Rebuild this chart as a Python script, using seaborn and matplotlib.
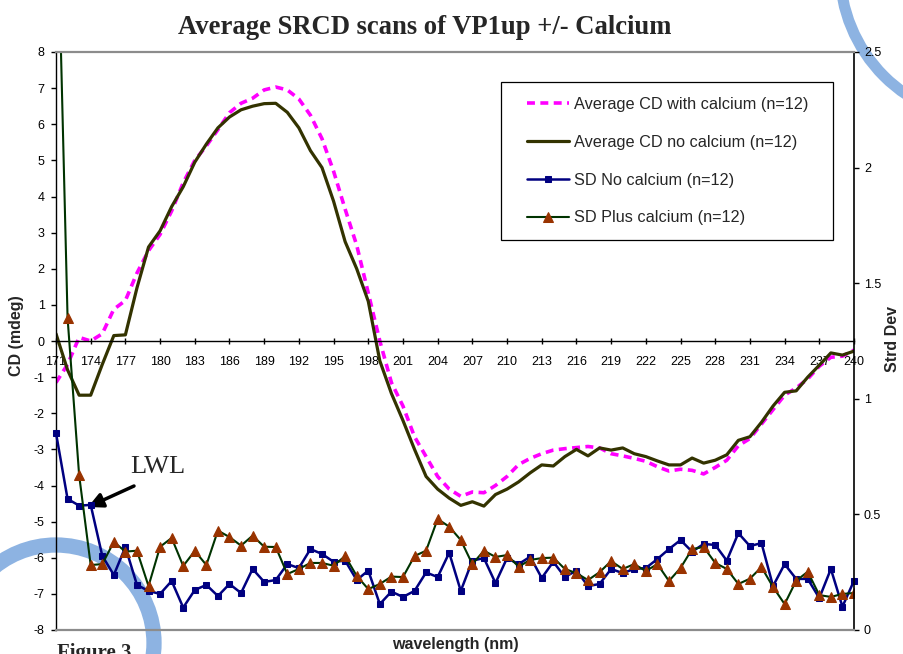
# Average SRCD scans of VP1up +/- Calcium

import pandas as pd
import matplotlib.pyplot as plt
import seaborn as sb
from matplotlib.patches import Ellipse, Rectangle
from matplotlib.ticker import FuncFormatter

# Data (171-240 nm, 1 nm steps)
wavelength = list(range(171, 241))

cd_with_calcium = [
    -1.15, -0.65, 0.1, 0.0, 0.2, 0.88, 1.12, 1.88, 2.5, 2.95,
    3.6, 4.38, 5.0, 5.4, 5.85, 6.32, 6.58, 6.72, 6.95, 7.03,
    6.95, 6.7, 6.25, 5.6, 4.7, 3.65, 2.65, 1.33, 0.0, -1.15,
    -1.8, -2.65, -3.2, -3.75, -4.1, -4.3, -4.18, -4.2, -4.0, -3.75,
    -3.42, -3.25, -3.12, -3.02, -2.98, -2.95, -2.92, -2.96, -3.12, -3.18,
    -3.25, -3.33, -3.48, -3.6, -3.55, -3.58, -3.68, -3.5, -3.3, -2.9,
    -2.7, -2.3, -1.9, -1.5, -1.3, -1.05, -0.7, -0.45, -0.42, -0.25]

cd_no_calcium = [
    0.2, -0.8, -1.5, -1.5, -0.65, 0.15, 0.17, 1.47, 2.6, 3.05,
    3.72, 4.27, 4.95, 5.45, 5.9, 6.2, 6.4, 6.5, 6.57, 6.58,
    6.33, 5.9, 5.27, 4.8, 3.87, 2.75, 2.0, 1.1, -0.55, -1.45,
    -2.2, -3.0, -3.75, -4.1, -4.35, -4.55, -4.45, -4.57, -4.25, -4.1,
    -3.9, -3.65, -3.43, -3.46, -3.2, -3.0, -3.18, -2.96, -3.02, -2.96,
    -3.12, -3.2, -3.32, -3.43, -3.43, -3.24, -3.38, -3.3, -3.15, -2.75,
    -2.65, -2.25, -1.8, -1.42, -1.38, -1.0, -0.67, -0.33, -0.39, -0.28]

sd_no_calcium = [
    0.852, 0.567, 0.538, 0.541, 0.321, 0.238, 0.359, 0.195, 0.169, 0.156,
    0.212, 0.097, 0.173, 0.195, 0.147, 0.199, 0.160, 0.264, 0.208, 0.216,
    0.285, 0.268, 0.350, 0.329, 0.295, 0.300, 0.216, 0.257, 0.112, 0.166,
    0.143, 0.169, 0.249, 0.229, 0.334, 0.169, 0.300, 0.311, 0.203, 0.311,
    0.285, 0.317, 0.225, 0.295, 0.229, 0.257, 0.190, 0.199, 0.264, 0.246,
    0.264, 0.268, 0.307, 0.350, 0.389, 0.339, 0.372, 0.368, 0.300, 0.419,
    0.363, 0.376, 0.190, 0.285, 0.221, 0.221, 0.138, 0.264, 0.101, 0.213]

sd_plus_calcium = [
    3.37, 1.35, 0.670, 0.281, 0.285, 0.381, 0.339, 0.343, 0.190, 0.360,
    0.398, 0.277, 0.342, 0.281, 0.430, 0.402, 0.365, 0.408, 0.360, 0.359,
    0.242, 0.264, 0.290, 0.290, 0.278, 0.320, 0.234, 0.177, 0.199, 0.231,
    0.229, 0.320, 0.343, 0.480, 0.447, 0.389, 0.285, 0.343, 0.316, 0.324,
    0.274, 0.303, 0.311, 0.313, 0.264, 0.246, 0.216, 0.250, 0.298, 0.264,
    0.285, 0.255, 0.285, 0.212, 0.268, 0.350, 0.359, 0.290, 0.264, 0.199,
    0.222, 0.272, 0.186, 0.112, 0.213, 0.252, 0.151, 0.143, 0.156, 0.160]

df = pd.DataFrame({'wl': wavelength,
                   'cd_ca': cd_with_calcium, 'cd_no': cd_no_calcium,
                   'sd_no': sd_no_calcium, 'sd_ca': sd_plus_calcium})

sb.set_style('white')
plt.rcParams['font.family'] = ['Liberation Sans', 'DejaVu Sans']
plt.rcParams['axes.unicode_minus'] = False

W, H = 904, 654
fig = plt.figure(figsize=(W / 100, H / 100), dpi=100)
fig.patch.set_facecolor('white')

# page decorations behind the chart
fig.patches.append(Ellipse((56 / W, 1 - 643 / H), 196 / W, 196 / H,
                           transform=fig.transFigure, fill=False,
                           edgecolor='#8DB3E2', lw=11, zorder=-1))
fig.patches.append(Ellipse((990 / W, 1 + 30 / H), 300 / W, 300 / H,
                           transform=fig.transFigure, fill=False,
                           edgecolor='#8DB3E2', lw=8, zorder=-1))

ax = fig.add_axes([56 / W, 1 - 630 / H, 798 / W, 578 / H])
ax.set_facecolor('none')
ax2 = ax.twinx()

sb.lineplot(data=df, x='wl', y='cd_ca', ax=ax, color='#FF00FF', lw=2.6,
            linestyle=(0, (2.2, 1.5)), label='Average CD with calcium (n=12)')
sb.lineplot(data=df, x='wl', y='cd_no', ax=ax, color='#333300', lw=2.3,
            label='Average CD no calcium (n=12)')
sb.lineplot(data=df, x='wl', y='sd_no', ax=ax2, color='#000080', lw=1.8,
            marker='s', markersize=4.6, markeredgecolor='#000080',
            clip_on=False, label='SD No calcium (n=12)')
sb.lineplot(data=df, x='wl', y='sd_ca', ax=ax2, color='#003300', lw=1.5,
            marker='^', markersize=7.3, markerfacecolor='#993300',
            markeredgecolor='#993300', label='SD Plus calcium (n=12)')

ax.set_xlim(171, 240)
ax.set_ylim(-8, 8)
ax2.set_ylim(0, 2.5)
ax.set_xlabel('')
ax.set_ylabel('')
ax2.set_ylabel('')

ax.set_xticks(range(171, 241, 3))
ax.set_yticks(range(-8, 9))
ax2.set_yticks([0, 0.5, 1, 1.5, 2, 2.5])
ax2.yaxis.set_major_formatter(FuncFormatter(lambda v, p: '%g' % v))
ax.tick_params(axis='x', direction='inout', length=5, width=1, pad=8.5,
               labelsize=9, colors='black', bottom=True)
ax.tick_params(axis='y', direction='out', length=3.6, width=1, pad=4.5,
               labelsize=9, colors='black', left=True)
ax2.tick_params(axis='y', direction='out', length=3.6, width=1, pad=3.6,
                labelsize=9, colors='black', right=True)

for s in ['top', 'right']:
    ax.spines[s].set_visible(False)
ax.spines['left'].set_color('black')
ax.spines['left'].set_linewidth(1)
ax.spines['bottom'].set_position(('data', 0))
ax.spines['bottom'].set_color('black')
ax.spines['bottom'].set_linewidth(1)
ax2.spines['left'].set_visible(False)
ax2.spines['right'].set_color('black')
ax2.spines['right'].set_linewidth(1.2)
for s in ['top', 'bottom']:
    ax2.spines[s].set_color('#8C8C8C')
    ax2.spines[s].set_linewidth(1.6)

# legend
if ax.get_legend() is not None:
    ax.get_legend().remove()
h1, l1 = ax.get_legend_handles_labels()
h2, l2 = ax2.get_legend_handles_labels()
ax2.add_patch(Rectangle(((501 - 56) / 798, (630 - 240) / 578), 332 / 798, 158 / 578,
                        transform=ax2.transAxes, facecolor='white',
                        edgecolor='black', lw=0.9, zorder=4, clip_on=False))
leg = ax2.legend(h1 + h2, l1 + l2, loc='upper left',
                 bbox_to_anchor=((527 - 56) / 798, (630 - 97) / 578),
                 frameon=False, fontsize=11.7, borderpad=0, borderaxespad=0,
                 handlelength=2.6, handletextpad=0.3, labelspacing=1.4)
leg.set_zorder(5)

# labels and annotations
serif = ['Liberation Serif', 'DejaVu Serif']
fig.text(425 / W, 1 - 27 / H, 'Average SRCD scans of VP1up +/- Calcium',
         ha='center', va='center', fontsize=19.2, fontweight='bold', family=serif)
fig.text(17 / W, 1 - 336 / H, 'CD (mdeg)', rotation=90, ha='center',
         va='center', fontsize=11.5, fontweight='bold')
fig.text(893 / W, 1 - 339 / H, 'Strd Dev', rotation=90, ha='center',
         va='center', fontsize=11.5, fontweight='bold')
fig.text(455 / W, 1 - 645 / H, 'wavelength (nm)', ha='center', va='center',
         fontsize=11.5, fontweight='bold')
fig.text(57 / W, 1 - 643 / H, 'Figure 3', ha='left', va='top',
         fontsize=15, fontweight='bold', family=serif)
fig.text(158 / W, 1 - 467 / H, 'LWL', ha='center', va='center',
         fontsize=19, family=serif)
ax.annotate('', xy=(88, H - 507), xycoords='figure pixels',
            xytext=(134, H - 486), textcoords='figure pixels',
            arrowprops=dict(arrowstyle='-|>', lw=2.5, color='black',
                            mutation_scale=22, shrinkA=0, shrinkB=0),
            zorder=6)

fig.savefig('out.png', dpi=100)
